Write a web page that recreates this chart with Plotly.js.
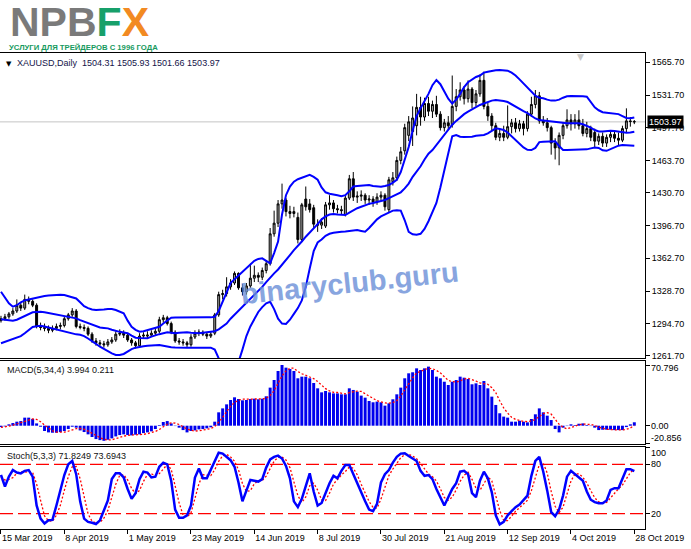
<!DOCTYPE html>
<html><head><meta charset="utf-8">
<script src="https://cdn.plot.ly/plotly-3.0.1.min.js"></script>
<style>html,body{margin:0;padding:0;background:#fff;overflow:hidden}#chart{width:691px;height:549px}</style>
</head><body><div id="chart"></div>
<script>
const dateLabels = ["15 Mar 2019","8 Apr 2019","1 May 2019","23 May 2019","14 Jun 2019","8 Jul 2019","30 Jul 2019","21 Aug 2019","12 Sep 2019","4 Oct 2019","28 Oct 2019"];
const labelBars = [0,16,32,48,64,80,96,112,128,144,160];

const openP = [1298,1300,1302,1305,1308,1314,1311,1320,1318,1314,
1292,1291,1290,1288,1290,1292,1293,1300,1304,1308,
1292,1291,1290,1284,1277,1275,1274,1273,1276,1278,
1284,1285,1283,1278,1275,1272,1282,1282,1283,1285,
1287,1299,1301,1295,1286,1277,1276,1275,1273,1281,
1285,1286,1284,1282,1285,1304,1325,1326,1333,1337,
1347,1332,1328,1334,1342,1345,1343,1350,1357,1388,
1399,1419,1423,1411,1409,1405,1382,1424,1419,1415,
1398,1397,1396,1418,1420,1414,1413,1408,1425,1445,
1426,1427,1428,1423,1424,1421,1426,1428,1413,1442,
1446,1464,1474,1490,1494,1500,1519,1509,1523,1515,
1522,1512,1498,1503,1501,1520,1530,1537,1528,1538,
1524,1533,1547,1520,1510,1500,1488,1492,1488,1499,
1503,1497,1502,1497,1512,1522,1531,1505,1503,1498,
1482,1477,1490,1500,1506,1502,1506,1500,1492,1497,
1493,1484,1489,1482,1488,1491,1487,1485,1497,1505,
1504.31];
const highP = [1303,1305,1307,1311,1320,1317,1325,1323,1320,1316,
1296,1295,1293,1293,1295,1296,1302,1306,1311,1310,
1295,1294,1292,1286,1280,1278,1277,1279,1281,1287,
1289,1288,1285,1280,1277,1285,1286,1287,1288,1290,
1302,1304,1303,1297,1288,1280,1279,1277,1284,1288,
1289,1288,1286,1287,1306,1328,1330,1343,1341,1349,
1348,1336,1337,1357,1355,1348,1353,1360,1394,1412,
1423,1440,1425,1417,1416,1410,1420,1437,1424,1418,
1403,1404,1421,1428,1423,1418,1417,1428,1449,1452,
1432,1433,1430,1428,1427,1430,1432,1430,1447,1452,
1468,1478,1502,1510,1520,1533,1530,1529,1530,1526,
1531,1515,1507,1510,1552,1538,1545,1541,1547,1540,
1537,1553,1556,1524,1513,1503,1497,1500,1521,1507,
1508,1506,1505,1515,1530,1537,1535,1510,1508,1500,
1487,1493,1503,1517,1512,1512,1516,1507,1504,1500,
1497,1492,1493,1491,1494,1495,1493,1500,1518,1509,
1505.93];
const lowP = [1296,1298,1300,1303,1306,1308,1309,1315,1312,1290,
1288,1287,1285,1286,1288,1289,1291,1298,1302,1290,
1289,1287,1282,1275,1272,1271,1270,1271,1274,1276,
1282,1280,1276,1272,1269,1270,1280,1280,1281,1283,
1285,1296,1293,1284,1275,1273,1272,1270,1271,1279,
1282,1282,1279,1280,1283,1302,1320,1323,1330,1335,
1330,1324,1325,1332,1338,1338,1340,1347,1355,1385,
1395,1414,1406,1404,1405,1378,1380,1412,1410,1394,
1390,1393,1394,1413,1410,1409,1408,1406,1423,1422,
1420,1422,1419,1418,1416,1418,1423,1412,1410,1438,
1443,1460,1470,1484,1479,1490,1500,1505,1510,1508,
1509,1495,1494,1496,1498,1515,1526,1522,1524,1518,
1520,1530,1517,1505,1495,1485,1484,1484,1486,1492,
1493,1494,1490,1494,1509,1518,1502,1500,1494,1470,
1465,1459,1486,1497,1495,1497,1496,1489,1488,1484,
1478,1480,1478,1478,1483,1483,1480,1483,1493,1499,
1501.66];
const closeP = [1300,1302,1305,1308,1314,1311,1320,1318,1314,1292,
1291,1290,1288,1290,1292,1293,1300,1304,1308,1292,
1291,1290,1284,1277,1275,1274,1273,1276,1278,1284,
1285,1283,1278,1275,1272,1282,1283,1283,1285,1287,
1299,1301,1295,1286,1277,1276,1275,1273,1281,1285,
1286,1284,1282,1284,1304,1325,1326,1333,1337,1347,
1332,1328,1334,1342,1345,1343,1350,1357,1388,1399,
1419,1423,1411,1409,1411,1382,1418,1416,1413,1398,
1397,1400,1418,1420,1414,1413,1412,1425,1445,1426,
1427,1428,1423,1424,1421,1426,1428,1416,1444,1446,
1464,1473,1498,1504,1508,1519,1509,1523,1515,1522,
1512,1498,1503,1500,1520,1530,1537,1528,1538,1524,
1533,1547,1520,1510,1500,1488,1492,1488,1499,1503,
1497,1502,1497,1512,1522,1531,1505,1503,1498,1482,
1477,1490,1500,1506,1502,1506,1500,1492,1497,1488,
1484,1489,1482,1488,1491,1487,1485,1497,1505,1504.3,
1503.97];

const bbUpper = [1328,1322,1316,1312.5,1314,1317,1319,1320,1321,1322,
1323,1323.5,1324,1324.5,1324.8,1324.8,1324.6,1323.5,1322.5,1321,
1317,1313,1311,1309.5,1309,1309,1309.5,1310,1310,1309,
1307,1305.6,1298,1291.7,1288.5,1286.5,1287,1288.3,1289.5,1290.8,
1291.7,1295,1298,1301,1301.3,1301.4,1301.4,1301.4,1301.4,1301.4,
1301.4,1301.4,1301.4,1301.4,1302,1308,1318,1328,1337,1341,
1345,1349,1352,1356,1360,1362,1362.6,1360,1357.4,1368,
1380,1408,1428,1437,1442,1444.5,1446,1447.5,1449,1447,
1444,1436,1431,1429.5,1429,1428,1427,1428,1432,1437,
1437.5,1438,1438.5,1438.5,1437.5,1437,1436.8,1437.5,1438.5,1441,
1444,1452,1465,1478,1495,1510,1518,1525,1533,1542,
1547.4,1543,1536,1528,1523,1527,1533,1540,1545,1548,
1550.5,1552,1555,1556,1557,1557.5,1557.7,1557.7,1557,1555,
1552,1548,1544,1540,1536,1531,1529,1528.5,1527,1526,
1526,1527,1529,1530.5,1530.8,1530.8,1530.8,1530.5,1530,1525,
1519,1516,1514,1513.5,1513,1512.5,1512,1510,1508,1507.7,
1508.5];
const bbMiddle = [1299.5,1299,1298.5,1298,1299,1301,1303,1305,1306.6,1307,
1307.3,1306.8,1306,1305.3,1304.6,1303.7,1302.8,1302,1301.2,1300.4,
1298.5,1297,1295.2,1293.4,1291.7,1291,1290.5,1290,1288.6,1287.2,
1286.4,1285.7,1285,1282.5,1280.3,1280,1279.8,1279.7,1281.4,1283.1,
1284,1285,1286,1285.5,1285,1285.5,1286,1286,1285.5,1285,
1285,1285.5,1286,1286,1287,1289,1292,1295,1300,1304,
1308,1312,1316,1320,1324,1328,1333,1338,1343,1347,
1351,1355.7,1361,1366,1371,1375,1380,1385,1389,1393,
1398,1403,1406,1408,1408.5,1408,1407.5,1407.5,1410,1412.6,
1414.5,1416,1417.8,1419,1420,1421,1422,1423,1425,1427,
1429,1431,1435,1440,1447,1452,1458,1465,1471,1474.8,
1480,1485,1490,1496,1501,1505,1509,1512,1514.5,1517,
1519.5,1521.5,1523,1524.5,1526,1526.6,1526.3,1525.5,1524.5,1522,
1519.5,1517,1515,1513,1510,1507.5,1506,1505.5,1505,1504.5,
1504,1503,1502.5,1502.5,1502.5,1502.5,1502.5,1501.5,1500,1498,
1495.5,1494,1494,1494.5,1494.8,1494.5,1493.8,1493,1492.7,1493,
1493.8];
const bbLower = [1274.6,1276,1277.5,1279,1280.5,1282,1285,1288.5,1291.5,1292.3,
1292.7,1292,1291,1289.5,1288.3,1287.3,1286.3,1285.3,1284.5,1283.8,
1283.3,1282,1279.5,1277,1274,1271,1268.5,1266,1264,1262.4,
1262.5,1263.5,1266,1268.5,1270,1271,1271.5,1272,1272.3,1272.5,
1272.7,1272,1271,1270.5,1270.3,1270,1270,1270,1270,1270,
1270,1270,1270,1270,1268,1260,1250,1246,1244,1246,
1255,1268,1282,1292,1300,1307,1312,1316,1317.6,1310,
1300,1295,1294.5,1299,1305,1311,1319,1333,1352,1370,
1379,1382,1386,1388,1389,1390,1390.2,1390.5,1391,1391.5,
1391.8,1391,1390.2,1394,1399,1403,1406,1408,1410,1412,
1412.5,1412,1402,1390,1387.5,1387,1388,1393,1401,1410,
1420,1436,1454,1474,1489,1490.4,1488.6,1488.2,1488,1488.5,
1489.5,1490,1490.4,1492,1494.5,1497.3,1496.5,1495.5,1493,1489,
1485,1481,1477.5,1475,1474.8,1477,1483,1483.4,1483.6,1483.8,
1484,1479,1474.8,1474.8,1475,1475,1475.3,1475.5,1475.5,1476.5,
1477.5,1477,1474.5,1474,1476,1478,1479.3,1480,1480,1479.5,
1479.3];

const macdMain = [-1.6,-0.8,1.6,3.1,4.7,5.4,9.4,9.4,7.8,2.7,
-1.2,-6.2,-7.8,-8.2,-8.2,-7.4,-6.2,-3.9,-1.2,-2.3,
-5.5,-7.4,-10.1,-13.2,-15.6,-16.8,-17.6,-16.4,-14.8,-12.5,
-10.9,-10.1,-10.9,-11.3,-10.5,-10.1,-8.6,-7.8,-6.6,-3.9,
0.8,4.3,5.4,2.7,-0.4,-2.3,-5.1,-7.8,-6.2,-5.5,
-4.3,-3.9,-3.1,-1.9,4.7,15.6,20.2,24.9,30,33.1,
31.1,29.6,30,31.1,31.5,30.8,31.5,34.3,44.4,53.3,
63.8,70.796,67.7,66.1,63.8,55.3,57.2,57.2,55.3,49.8,
43.6,38.9,40.5,38.9,37.7,37.7,36.6,36.6,43.6,41.7,
39.7,35.1,32.7,28.8,27.3,28.1,27.3,23.4,26.1,30.8,
36.6,44.4,55.3,61.1,62.3,66.9,65,66.9,68.9,65,
57.2,55.3,51.3,47.5,51.3,53.3,57.2,56,54.5,48.3,
49.4,47.5,52.1,43.6,33.9,24.2,14.5,10.6,9.4,4.7,
4.7,5.8,4.7,3.9,7.8,13.3,20.2,15.6,11.7,6.6,
-3.9,-7.8,-2.3,-0.4,1.6,0.8,2.3,2.7,0.8,-0.4,
-2.3,-5.1,-4.7,-4.7,-4.7,-5.1,-5.1,-5.1,-1.6,1.6,
3.994];
const macdSignal = [-2.0,-1.5,-0.5,0.6,2.2,3.7,5.7,7.2,8.0,7.3,
4.7,0.8,-3.1,-5.9,-7.6,-7.9,-7.5,-6.4,-4.7,-3.4,
-3.2,-4.1,-6.3,-9.1,-11.6,-13.9,-15.8,-16.6,-16.4,-15.3,
-13.7,-12.1,-11.1,-10.8,-10.7,-10.7,-10.1,-9.3,-8.3,-6.7,
-4.4,-1.4,1.7,3.3,3.0,1.4,-1.3,-3.9,-5.4,-6.2,
-6.0,-5.0,-4.2,-3.3,-1.1,3.8,9.7,16.4,22.7,27.1,
29.8,31.0,31.0,30.5,30.6,30.9,31.2,32.0,35.3,40.9,
49.0,58.1,63.9,67.1,67.1,63.2,60.6,58.4,56.3,54.9,
51.5,46.9,43.2,40.5,39.0,38.7,37.7,37.2,38.6,39.6,
40.4,40.0,37.3,34.1,31.0,29.2,27.9,26.5,26.2,26.9,
29.2,34.5,41.8,49.4,55.8,61.4,63.8,65.3,66.9,66.5,
64.5,61.6,57.2,52.8,51.4,50.9,52.3,54.5,55.3,54.0,
52.1,49.9,49.3,48.2,44.3,38.5,29.1,20.8,14.7,9.8,
7.4,6.2,5.0,4.8,5.6,7.4,11.3,14.2,15.2,13.5,
7.5,1.7,-1.9,-3.6,-2.2,-0.1,1.1,1.9,1.7,1.4,
0.2,-1.8,-3.1,-4.2,-4.8,-4.8,-4.9,-5.0,-4.2,-2.6,
0.211];

const stochK = [67,53,65,73,70,69,72,73,65,30,
14,8,12,12.5,30,48,67,80,84,68,
35,14,10,9,7.5,12,24,36,62,69,
69,64,50,38,45,62,71,70,64,65,
77,82,80,60,25,15,15,18,30,64,
75,63,63,73,84,94,93,89,85,77,
58,35,48,61,60,59,62,76,86,89,
90.5,87,78,63,35,28,38,55,69,47,
30,33,45,57,66,63,72,79,79,68,
55,44,35,25,23,32,58,68,73,82,
89,93,93.4,90,86.5,84,72,66,67,62,
50,39,30,40,50,57,71,72,68,45,
40,60,71,63,46,18,7,10,18,23,
28,31,36,42,66,84,89,71,48,22,
17,25,42,65,72,68,65,60,47,37,
34,32.6,32.6,36,49,51,51,62,74,74,
71.8249];
const stochD = [65,61,61.7,63.7,69.3,70.7,70.3,71.3,70,56,
36.3,17.3,11.3,10.8,18.2,30.2,48.3,65,77,77.3,
62.3,39,19.7,11,8.8,9.5,14.5,24,40.7,55.7,
66.7,67.3,61,50.7,44.3,48.3,59.3,67.7,68.3,66.3,
68.7,74.7,79.7,74,55,33.3,18.3,16,21,37.3,
56.3,67.3,67,66.3,73.3,83.7,90.3,92,89,83.7,
73.3,56.7,47,48,56.3,60,60.3,65.7,74.7,83.7,
88.5,88.8,85.2,76,58.7,42,33.7,40.3,54,57,
48.7,36.7,36,45,56,62,67,71.3,76.7,75.3,
67.3,55.7,44.7,34.7,27.7,26.7,37.7,52.7,66.3,74.3,
81.3,88,91.8,92.1,90,86.8,80.8,74,68.3,65,
59.7,50.3,39.7,36.3,40,49,59.3,66.7,70.3,61.7,
51,48.3,57,64.7,60,42.3,23.7,11.7,11.7,17,
23,27.3,31.7,36.3,48,64,79.7,81.3,69.3,47,
29,21.3,28,44,59.7,68.3,68.3,64.3,57.3,48,
39.3,34.5,33.1,33.7,39.2,45.3,50.3,54.7,62.3,70,
73.6943];

const priceTicks = [1565.7,1531.7,1497.7,1463.7,1430.7,1396.7,1362.7,1328.7,1294.7,1261.7];
const macdTicks = [70.796, 0, -20.856];
const stochTicks = [100, 80, 20, 0];
const stochLevels = [20, 80];

// ---- geometry (pixels of the 691x549 window) ----
const W = 691, H = 549, ML = 0, MR = 46, MT = 53, MB = 20;
const plotW = W - ML - MR, plotH = H - MT - MB;
const py = y => (H - MB - y) / plotH;
const px = x => (x - ML) / plotW;
const FONT = 'Liberation Sans, Arial, sans-serif';
const n = closeP.length, last = n - 1;
const idx = closeP.map((_, i) => i);
const xRange = [-0.25, 162.7];

const traces = [
  {type:'candlestick', x: idx, open: openP, high: highP, low: lowP, close: closeP,
   xaxis:'x', yaxis:'y', whiskerwidth:0, hoverinfo:'skip',
   increasing:{line:{color:'#000000', width:1}, fillcolor:'#a0a0a0'},
   decreasing:{line:{color:'#000000', width:1}, fillcolor:'#000000'}},
  {type:'scatter', mode:'lines', x: idx, y: bbUpper, xaxis:'x', yaxis:'y', line:{color:'#0000ff', width:2}, hoverinfo:'skip'},
  {type:'scatter', mode:'lines', x: idx, y: bbMiddle, xaxis:'x', yaxis:'y', line:{color:'#0000ff', width:2}, hoverinfo:'skip'},
  {type:'scatter', mode:'lines', x: idx, y: bbLower, xaxis:'x', yaxis:'y', line:{color:'#0000ff', width:2}, hoverinfo:'skip'},
  {type:'bar', x: idx, y: macdMain, xaxis:'x2', yaxis:'y2', marker:{color:'#0000ee', line:{width:0}}, hoverinfo:'skip'},
  {type:'scatter', mode:'lines', x: idx, y: macdSignal, xaxis:'x2', yaxis:'y2', line:{color:'#ff0000', width:1.3, dash:'2px,2px'}, hoverinfo:'skip'},
  {type:'scatter', mode:'lines', x: idx, y: stochD, xaxis:'x3', yaxis:'y3', line:{color:'#ff0000', width:1.3, dash:'2px,2px'}, hoverinfo:'skip'},
  {type:'scatter', mode:'lines', x: idx, y: stochK, xaxis:'x3', yaxis:'y3', line:{color:'#0000ff', width:2.5}, hoverinfo:'skip'}
];

const axBase = {showgrid:false, zeroline:false, showline:true, mirror:true, linecolor:'#000', linewidth:1, fixedrange:true};
const tickFont = {family: FONT, size: 9, color:'#000'};

const shapes = [
  {type:'line', xref:'paper', x0:0, x1:1, yref:'y', y0: closeP[last], y1: closeP[last], line:{color:'#c4c4c4', width:1}, layer:'below'}
];
stochLevels.forEach(lv => shapes.push({type:'line', xref:'paper', x0:0, x1:1, yref:'y3', y0:lv, y1:lv,
  line:{color:'#ff0000', width:1.3, dash:'13px,5px'}, layer:'below'}));

const fmt2 = v => v.toFixed(2);
const annotations = [
  {xref:'paper', yref:'paper', x: px(8), y: py(22), xanchor:'left', yanchor:'middle', showarrow:false, height:30, valign:'middle',
   text:'<b><span style="color:#7a7a7a">NPB</span><span style="color:#17a06a">F</span><span style="color:#f28a22">X</span></b>',
   font:{family: FONT, size:41}},
  {xref:'paper', yref:'paper', x: px(7), y: py(47.5), xanchor:'left', yanchor:'middle', showarrow:false,
   text:'<b>УСЛУГИ ДЛЯ ТРЕЙДЕРОВ С 1996 ГОДА</b>',
   font:{family: FONT, size:7.7, color:'#179a5e'}},
  {xref:'paper', yref:'paper', x: px(4), y: py(64), xanchor:'left', yanchor:'middle', showarrow:false,
   text:'▼', font:{family:'DejaVu Sans, sans-serif', size:7, color:'#000'}},
  {xref:'paper', yref:'paper', x: px(15), y: py(63), xanchor:'left', yanchor:'middle', showarrow:false,
   text:'XAUUSD,Daily  ' + [openP[last], highP[last], lowP[last], closeP[last]].map(fmt2).join(' '),
   font:{family: FONT, size:9, color:'#14144a'}},
  {xref:'paper', yref:'paper', x: px(580), y: py(57), xanchor:'center', yanchor:'middle', showarrow:false,
   text:'▼', font:{family:'DejaVu Sans, sans-serif', size:9, color:'#c8c8c8'}},
  {xref:'paper', yref:'paper', x: px(349), y: py(283), xanchor:'center', yanchor:'middle', showarrow:false,
   text:'<b>binaryclub.guru</b>', textangle:-6, opacity:0.8,
   font:{family: FONT, size:29, color:'#6b8fd8'}},
  {xref:'paper', yref:'paper', x: px(5), y: py(370), xanchor:'left', yanchor:'middle', showarrow:false,
   text:'MACD(5,34,4) ' + macdMain[last].toFixed(3) + ' ' + macdSignal[last].toFixed(3),
   font:{family: FONT, size:9, color:'#111'}},
  {xref:'paper', yref:'paper', x: px(5), y: py(455.5), xanchor:'left', yanchor:'middle', showarrow:false,
   text:'Stoch(5,3,3) ' + stochK[last].toFixed(4) + ' ' + stochD[last].toFixed(4),
   font:{family: FONT, size:9, color:'#111'}},
  {xref:'paper', yref:'y', x:1, xshift:2, y: closeP[last], xanchor:'left', yanchor:'middle', showarrow:false,
   text: fmt2(closeP[last]), bgcolor:'#000', borderpad:1, font:{family: FONT, size:9, color:'#fff'}}
];
const macdShift = [-3, 0, 6];
macdTicks.forEach((v, k) => annotations.push({xref:'paper', yref:'y2', x:1, xshift:4, y:v, yshift: macdShift[k],
  xanchor:'left', yanchor:'middle', showarrow:false, text: (v === 0 ? '0.00' : String(v)), font: tickFont}));
const stochShift = [-5, 0, 0, 6];
stochTicks.forEach((v, k) => annotations.push({xref:'paper', yref:'y3', x:1, xshift:4, y:v, yshift: stochShift[k],
  xanchor:'left', yanchor:'middle', showarrow:false, text: String(v), font: tickFont}));

const layout = {
  width: W, height: H, margin:{l:ML, r:MR, t:MT, b:MB, pad:0},
  paper_bgcolor:'#ffffff', plot_bgcolor:'#ffffff', showlegend:false, bargap:0.25,
  xaxis: Object.assign({}, axBase, {domain:[0,1], anchor:'y', range:xRange, showticklabels:false, ticks:'', rangeslider:{visible:false}}),
  xaxis2: Object.assign({}, axBase, {domain:[0,1], anchor:'y2', range:xRange, showticklabels:false, ticks:''}),
  xaxis3: Object.assign({}, axBase, {domain:[0,1], anchor:'y3', range:xRange, tickmode:'array', tickvals:labelBars, ticktext:dateLabels,
    ticks:'outside', ticklen:4, tickcolor:'#000', ticklabelposition:'outside right', tickfont: tickFont}),
  yaxis: Object.assign({}, axBase, {domain:[py(358),1], anchor:'x', side:'right', range:[1259.3,1575.34],
    tickmode:'array', tickvals:priceTicks, ticktext:priceTicks.map(fmt2), ticks:'outside', ticklen:4, tickcolor:'#000', tickfont: tickFont}),
  yaxis2: Object.assign({}, axBase, {domain:[py(444),py(361)], anchor:'x2', side:'right', range:[-21.34,75.46],
    tickmode:'array', tickvals:macdTicks, showticklabels:false, ticks:'outside', ticklen:4, tickcolor:'#000'}),
  yaxis3: Object.assign({}, axBase, {domain:[0,py(447)], anchor:'x3', side:'right', range:[1.42,101],
    tickmode:'array', tickvals:stochTicks, showticklabels:false, ticks:'outside', ticklen:4, tickcolor:'#000'}),
  shapes: shapes, annotations: annotations
};

Plotly.newPlot('chart', traces, layout, {staticPlot:true, displayModeBar:false});
</script></body></html>
